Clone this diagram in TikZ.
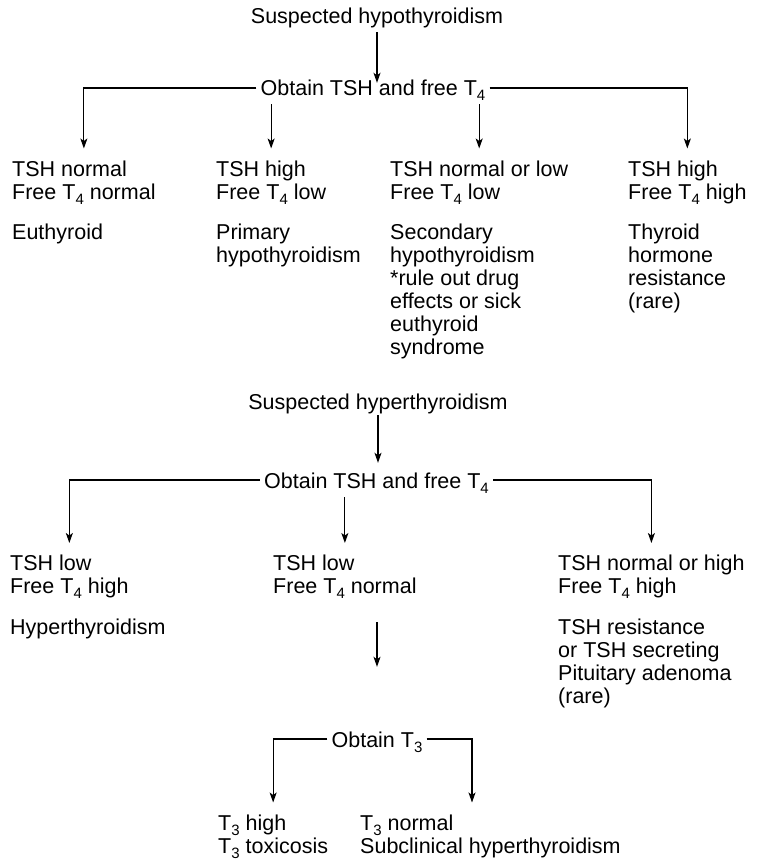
\documentclass[tikz,border=0pt]{standalone}
\usepackage{fontspec}
\setmainfont{Liberation Sans}
\usetikzlibrary{arrows.meta}
\newcommand{\subt}[1]{\raisebox{-5pt}{\fontsize{15}{15}\selectfont #1}}
\tikzset{
  query/.style={inner sep=0pt, anchor=base},
  obtain/.style={inner xsep=4pt, inner ysep=0pt, text height=16pt, text depth=0pt, anchor=base},
  txt/.style={inner sep=0pt, align=left, anchor=north west},
  arr/.style={-{Stealth[length=10pt,width=7pt,inset=2.5pt]}, line width=1.2pt},
  drop/.style={arr, shorten >=12pt}
}
\begin{document}
\begin{tikzpicture}[x=1pt, y=-1pt, font=\fontsize{21.5}{23}\selectfont]
  \useasboundingbox (0,0) rectangle (756,861);

  \node[query] (hypo) at (377,24) {Suspected hypothyroidism};
  \node[obtain] (obtA) at (373,96) {Obtain TSH and free T\subt{4}};
  \node[txt] (labA1) at (12,160.5) {TSH normal\\Free T\subt{4} normal};
  \node[txt] (labA2) at (216,160.5) {TSH high\\Free T\subt{4} low};
  \node[txt] (labA3) at (390,160.5) {TSH normal or low\\Free T\subt{4} low};
  \node[txt] (labA4) at (628,160.5) {TSH high\\Free T\subt{4} high};
  \node[txt] (dxA1) at (12,224) {Euthyroid};
  \node[txt] (dxA2) at (216,224) {Primary\\hypothyroidism};
  \node[txt] (dxA3) at (390,224) {Secondary\\hypothyroidism\\*rule out drug\\effects or sick\\euthyroid\\syndrome};
  \node[txt] (dxA4) at (628,224) {Thyroid\\hormone\\resistance\\(rare)};

  \draw[arr, shorten <=3.5pt, shorten >=-3pt] (hypo.south) -- (hypo.south |- obtA.north);
  \draw[drop] (obtA.west) -| (labA1.north);
  \draw[drop, shorten <=8pt] (labA2.north |- obtA.south) -- (labA2.north);
  \draw[drop, shorten <=8pt] (labA3.north |- obtA.south) -- (labA3.north);
  \draw[drop] (obtA.east) -| (labA4.north);

  \node[query] (hyper) at (378,409) {Suspected hyperthyroidism};
  \node[obtain] (obtB) at (376.5,488) {Obtain TSH and free T\subt{4}};
  \node[txt] (labB1) at (10,555) {TSH low\\Free T\subt{4} high};
  \node[txt] (labB2) at (273,555) {TSH low\\Free T\subt{4} normal};
  \node[txt] (labB3) at (558,555) {TSH normal or high\\Free T\subt{4} high};
  \node[txt] (dxB1) at (10,618.5) {Hyperthyroidism};
  \node[txt] (dxB3) at (558,618.5) {TSH resistance\\or TSH secreting\\Pituitary adenoma\\(rare)};

  \draw[arr, shorten <=1.5pt, shorten >=9pt] (hyper.south) -- (hyper.south |- obtB.north);
  \draw[drop] (obtB.west) -| (labB1.north);
  \draw[drop, shorten <=9pt] (labB2.north |- obtB.south) -- (labB2.north);
  \draw[drop] (obtB.east) -| (labB3.north);

  \node[obtain] (obtC) at (377,747) {Obtain T\subt{3}};
  \node[txt] (resC1) at (218,814.5) {T\subt{3} high\\T\subt{3} toxicosis};
  \node[txt] (resC2) at (360,814.5) {T\subt{3} normal\\Subclinical hyperthyroidism};

  \draw[arr, shorten <=23.5pt, shorten >=64pt] (obtC.north |- labB2.south) -- (obtC.north);
  \draw[drop] (obtC.west) -| (resC1.north);
  \draw[drop] (obtC.east) -| ([xshift=112pt]resC2.north west);
\end{tikzpicture}
\end{document}
